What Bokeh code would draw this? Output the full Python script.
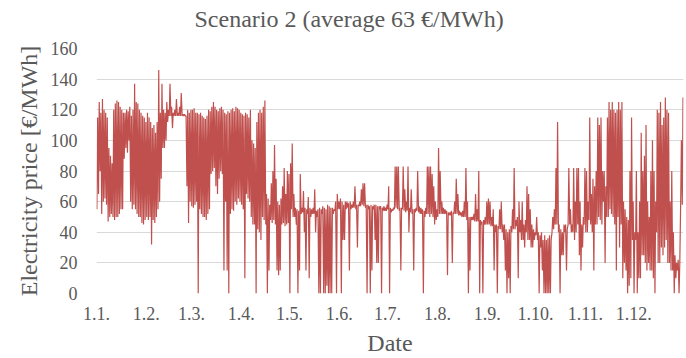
from bokeh.plotting import figure
from bokeh.models import FixedTicker, ColumnDataSource
from bokeh.embed import file_html
from bokeh.resources import INLINE

# ---- data (per day: daily low / daily high in EUR/MWh) ----
month_labels = ["1.1.", "1.2.", "1.3.", "1.4.", "1.5.", "1.6.",
                "1.7.", "1.8.", "1.9.", "1.10.", "1.11.", "1.12."]
month_days = [31, 28, 31, 30, 31, 30, 31, 31, 30, 31, 30, 31]
y_ticks = [0, 20, 40, 60, 80, 100, 120, 140, 160]

daily_high = [
    # Jan
    115, 125, 118, 127, 120, 118, 115, 95, 90, 85, 120, 124, 126, 125, 122, 120, 118, 118, 120, 119, 122, 116, 120, 137, 125, 124, 120, 118, 116, 115, 112,
    # Feb
    118, 115, 112, 108, 110, 105, 112, 146, 118, 137, 120, 118, 125, 120, 137, 122, 118, 120, 127, 118, 122, 131, 117, 117, 116, 120, 118, 120,
    # Mar
    120, 121, 118, 118, 117, 118, 116, 115, 114, 116, 120, 119, 122, 125, 122, 120, 119, 121, 122, 120, 118, 117, 119, 118, 120, 121, 119, 122, 121, 120, 118,
    # Apr
    117, 116, 118, 117, 115, 120, 100, 98, 95, 112, 118, 120, 118, 122, 126, 65, 62, 58, 72, 80, 97, 75, 60, 58, 62, 70, 82, 65, 80, 78,
    # May
    85, 98, 65, 56, 55, 54, 78, 56, 67, 56, 55, 63, 56, 55, 56, 68, 54, 55, 56, 55, 57, 56, 55, 58, 57, 56, 56, 55, 60, 65, 60,
    # Jun
    62, 60, 58, 60, 60, 59, 60, 58, 60, 70, 58, 58, 60, 68, 72, 72, 58, 58, 57, 58, 57, 58, 58, 57, 57, 57, 56, 57, 56, 58,
    # Jul
    70, 56, 55, 56, 83, 83, 83, 56, 56, 83, 68, 60, 83, 56, 68, 55, 55, 56, 80, 57, 56, 55, 54, 56, 83, 83, 83, 78, 70, 60, 55,
    # Aug
    95, 80, 60, 56, 55, 54, 53, 53, 54, 53, 60, 75, 65, 54, 53, 54, 60, 82, 60, 50, 50, 50, 52, 65, 55, 80, 48, 47, 48, 50, 60,
    # Sep
    62, 60, 50, 55, 45, 45, 44, 55, 60, 45, 45, 42, 40, 42, 44, 55, 82, 48, 50, 60, 48, 60, 45, 48, 70, 65, 55, 45, 42, 40,
    # Oct
    50, 40, 38, 40, 35, 38, 35, 36, 38, 35, 50, 55, 82, 112, 45, 42, 40, 45, 45, 42, 82, 55, 45, 82, 60, 82, 82, 60, 45, 50, 82,
    # Nov
    80, 60, 115, 65, 75, 70, 80, 115, 110, 115, 80, 80, 70, 115, 125, 120, 125, 120, 118, 120, 125, 120, 125, 60, 55, 50, 48, 80, 115, 60,
    # Dec
    40, 80, 40, 60, 105, 80, 90, 110, 60, 50, 80, 100, 80, 60, 120, 118, 125, 110, 115, 128, 120, 118, 60, 80, 40, 25, 20, 22, 20, 100, 128,
]

daily_low = [
    # Jan
    55, 65, 80, 52, 60, 62, 58, 47, 50, 52, 50, 48, 50, 50, 52, 55, 55, 88, 95, 92, 100, 60, 55, 58, 55, 52, 50, 50, 46, 45, 48,
    # Feb
    50, 48, 50, 32, 48, 46, 50, 55, 60, 75, 95, 95, 100, 112, 116, 116, 108, 116, 116, 116, 116, 116, 116, 116, 116, 70, 46, 60,
    # Mar
    57, 56, 58, 60, 0, 55, 52, 50, 50, 48, 52, 55, 78, 80, 82, 70, 65, 75, 80, 78, 15, 60, 15, 0, 52, 55, 54, 60, 58, 62, 60,
    # Apr
    58, 55, 10, 65, 62, 60, 50, 45, 45, 0, 42, 40, 35, 50, 48, 45, 0, 15, 48, 46, 48, 45, 15, 12, 15, 45, 46, 44, 45, 46,
    # May
    0, 55, 50, 50, 45, 0, 15, 52, 53, 40, 15, 52, 10, 50, 52, 52, 40, 50, 0, 0, 52, 0, 0, 5, 0, 0, 0, 52, 54, 0, 55,
    # Jun
    55, 0, 35, 35, 55, 56, 15, 55, 56, 56, 55, 30, 57, 57, 58, 57, 56, 0, 55, 0, 15, 55, 35, 20, 20, 55, 0, 54, 54, 54,
    # Jul
    55, 0, 53, 54, 55, 56, 55, 54, 15, 55, 54, 53, 54, 40, 53, 52, 15, 53, 54, 53, 52, 52, 0, 50, 52, 52, 50, 52, 50, 45, 48,
    # Aug
    50, 52, 52, 52, 52, 52, 12, 51, 51, 20, 52, 52, 52, 51, 51, 50, 50, 50, 48, 0, 15, 48, 48, 47, 47, 47, 0, 45, 0, 45, 45,
    # Sep
    45, 45, 44, 44, 15, 40, 0, 42, 42, 40, 35, 15, 0, 10, 0, 40, 42, 42, 44, 10, 40, 35, 35, 30, 40, 35, 35, 30, 30, 35,
    # Oct
    38, 35, 0, 30, 15, 0, 0, 0, 0, 0, 40, 42, 45, 45, 40, 0, 25, 25, 40, 15, 45, 45, 40, 40, 35, 40, 45, 25, 15, 30, 45,
    # Nov
    40, 40, 48, 45, 40, 15, 45, 45, 50, 48, 45, 60, 20, 50, 50, 55, 52, 50, 45, 15, 50, 30, 45, 10, 20, 15, 0, 5, 10, 35,
    # Dec
    0, 35, 0, 10, 10, 25, 25, 20, 15, 20, 15, 15, 10, 0, 40, 20, 20, 30, 25, 30, 35, 20, 20, 15, 15, 0, 10, 15, 0, 60, 58,
]

title_text = "Scenario 2 (average 63 €/MWh)"
x_label = "Date"
y_label = "Electricity price [€/MWh]"

# ---- build the time series (two readings per day) ----
xs, ys = [], []
for d, (lo, hi) in enumerate(zip(daily_low, daily_high)):
    xs.extend([d + 0.25, d + 0.7])
    ys.extend([lo, hi])
src = ColumnDataSource(data=dict(x=xs, y=ys))

month_starts = []
acc = 0
for n in month_days:
    month_starts.append(acc)
    acc += n

FONT = "Liberation Serif"
GREY = "#595959"
W, H = 686, 358

p = figure(width=W, height=H, output_backend="svg", toolbar_location=None,
           x_range=(0, 365), y_range=(0, 160),
           min_border_left=96, min_border_right=3, min_border_top=48, min_border_bottom=64)

# a blank second line lifts the title away from the plot area
p.title.text = title_text + "\n "
p.title.align = "left"
p.title.offset = 98
p.title.standoff = 5
p.title.text_line_height = 0.55
p.title.text_font = FONT
p.title.text_font_size = "24px"
p.title.text_font_style = "normal"
p.title.text_color = GREY

p.line("x", "y", source=src, line_color="#c0504d", line_width=1.2)

p.xaxis.ticker = FixedTicker(ticks=month_starts)
p.xaxis.major_label_overrides = {s: lab for s, lab in zip(month_starts, month_labels)}
p.yaxis.ticker = FixedTicker(ticks=y_ticks)
p.xaxis.axis_label = x_label
p.yaxis.axis_label = y_label

for ax in (p.xaxis[0], p.yaxis[0]):
    ax.axis_line_color = None
    ax.major_tick_line_color = None
    ax.minor_tick_line_color = None
    ax.major_tick_out = 0
    ax.minor_tick_out = 0
    ax.major_tick_in = 0
    ax.minor_tick_in = 0
    ax.major_label_text_font = FONT
    ax.major_label_text_font_size = "18px"
    ax.major_label_text_color = GREY
    ax.axis_label_text_font = FONT
    ax.axis_label_text_font_size = "24px"
    ax.axis_label_text_font_style = "normal"
    ax.axis_label_text_color = GREY
p.yaxis.major_label_standoff = 19
p.yaxis.axis_label_standoff = 6
p.xaxis.major_label_standoff = 13
p.xaxis.axis_label_standoff = 7

p.xgrid.visible = False
p.ygrid.grid_line_color = "#d9d9d9"
p.ygrid.grid_line_width = 1
p.outline_line_color = None
p.background_fill_color = "white"
p.border_fill_color = "white"

open("out.html", "w").write(file_html(p, INLINE))
